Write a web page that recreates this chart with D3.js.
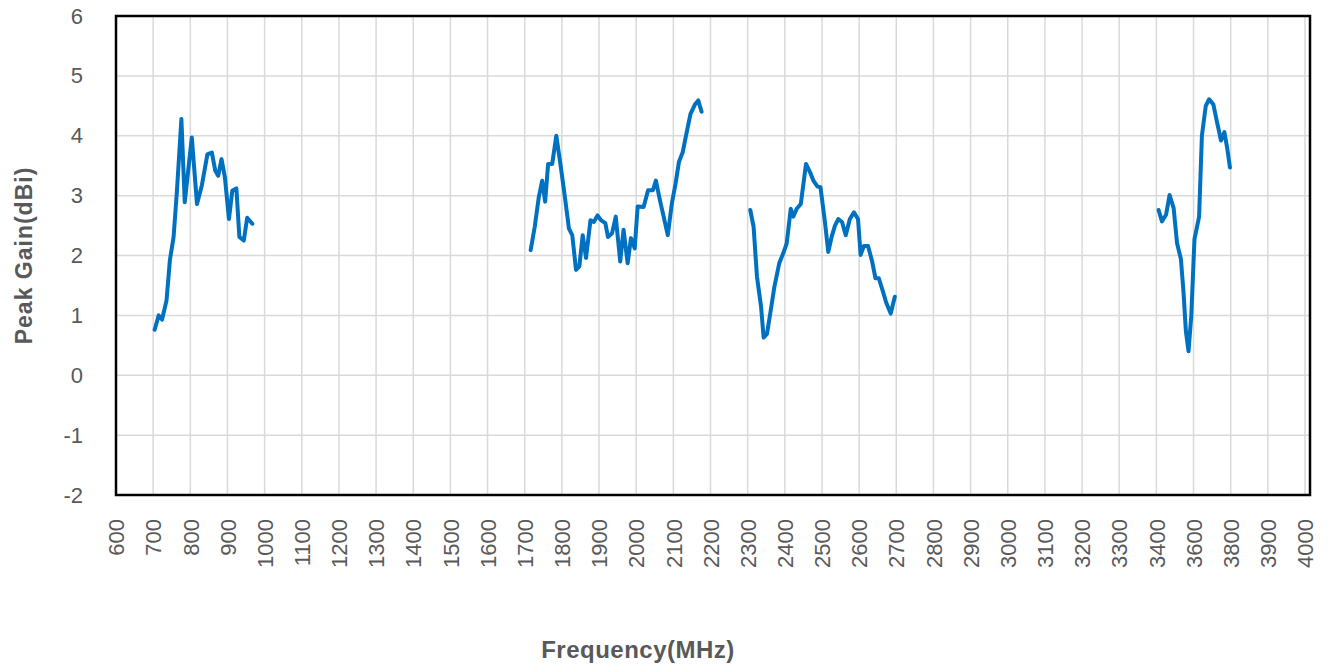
<!DOCTYPE html>
<html>
<head>
<meta charset="utf-8">
<script src="https://cdn.jsdelivr.net/npm/d3@7"></script>
<style>
  html, body { margin: 0; padding: 0; background: #ffffff; }
  svg { display: block; }
</style>
</head>
<body>
<svg id="chart" width="1335" height="665"></svg>
<script>
// ---- tick labels ----
const xTickLabels = [600,700,800,900,1000,1100,1200,1300,1400,1500,1600,1700,1800,1900,2000,
  2100,2200,2300,2400,2500,2600,2700,2800,2900,3000,3100,3200,3300,3400,3600,3800,3900,4000];
const yTickLabels = [-2,-1,0,1,2,3,4,5,6];

// ---- series values (frequency MHz, peak gain dBi) ----
const band1Freq = [704,715,724,736,745,755,764,776,785,804,818,831,846,858,867,875,884,893,904,913,924,932,944,953,967];
const band1Gain = [0.76,1.00,0.93,1.25,1.92,2.31,3.08,4.28,2.89,3.97,2.86,3.17,3.69,3.72,3.42,3.33,3.61,3.31,2.61,3.08,3.12,2.31,2.25,2.63,2.53];

const band2Freq = [1716,1727,1738,1747,1755,1763,1774,1785,1796,1808,1819,1828,1838,1847,1856,1865,1877,1886,1896,1905,1917,1924,1935,1945,1957,1966,1977,1986,1996,2004,2020,2032,2045,2053,2064,2075,2085,2096,2106,2115,2125,2136,2146,2158,2167,2176];
const band2Gain = [2.09,2.48,2.98,3.25,2.90,3.53,3.53,4.00,3.53,2.98,2.45,2.34,1.76,1.82,2.34,1.96,2.59,2.56,2.67,2.59,2.54,2.31,2.37,2.65,1.90,2.43,1.87,2.29,2.12,2.82,2.81,3.09,3.09,3.25,2.92,2.62,2.34,2.87,3.20,3.56,3.72,4.06,4.36,4.52,4.59,4.40];

const band3Freq = [2307,2316,2325,2336,2343,2352,2361,2372,2385,2396,2405,2416,2423,2432,2443,2457,2468,2477,2488,2496,2508,2517,2526,2535,2544,2554,2564,2575,2586,2597,2604,2613,2624,2635,2644,2653,2664,2673,2685,2696];
const band3Gain = [2.76,2.48,1.65,1.15,0.63,0.69,1.04,1.48,1.87,2.04,2.20,2.78,2.65,2.78,2.86,3.53,3.39,3.25,3.15,3.14,2.56,2.06,2.31,2.50,2.61,2.56,2.34,2.61,2.72,2.61,2.01,2.16,2.16,1.90,1.62,1.62,1.40,1.21,1.03,1.31];

const band4Freq = [3412,3430,3452,3471,3493,3511,3532,3546,3559,3573,3588,3605,3630,3645,3666,3684,3707,3725,3748,3766,3782,3796];
const band4Gain = [2.76,2.57,2.68,3.01,2.79,2.21,1.94,1.39,0.73,0.40,1.00,2.27,2.65,4.00,4.50,4.61,4.52,4.25,3.92,4.06,3.78,3.47];

const bands = [
  {freq: band1Freq, gain: band1Gain},
  {freq: band2Freq, gain: band2Gain},
  {freq: band3Freq, gain: band3Gain},
  {freq: band4Freq, gain: band4Gain}
];

// ---- layout ----
const plot = {left: 116, right: 1310, top: 16, bottom: 495};
const gridRight = 1305;
const textColor = "#595959";
const fontFamily = "'Liberation Sans', Arial, sans-serif";

const svg = d3.select("#chart");

// x: each labelled gridline is evenly spaced (category-like axis)
const step = (gridRight - plot.left) / (xTickLabels.length - 1);
const x = d3.scaleLinear()
  .domain(xTickLabels)
  .range(xTickLabels.map((d, i) => plot.left + i * step));

const y = d3.scaleLinear().domain([-2, 6]).range([plot.bottom, plot.top]);

// gridlines
const grid = svg.append("g");
grid.selectAll("line.v").data(xTickLabels).join("line")
  .attr("x1", d => x(d)).attr("x2", d => x(d))
  .attr("y1", plot.top).attr("y2", plot.bottom)
  .attr("stroke", "#d9d9d9").attr("stroke-width", 1.5);
grid.selectAll("line.h").data(yTickLabels).join("line")
  .attr("x1", plot.left).attr("x2", plot.right)
  .attr("y1", d => y(d)).attr("y2", d => y(d))
  .attr("stroke", "#d9d9d9").attr("stroke-width", 1.5);

// y axis labels
const yAxis = d3.axisLeft(y).tickValues(yTickLabels).tickSize(0).tickPadding(33).tickFormat(d => String(d));
const yg = svg.append("g").attr("transform", `translate(${plot.left},0)`).call(yAxis);
yg.select(".domain").remove();
yg.selectAll("text").attr("fill", textColor).style("font-family", fontFamily).style("font-size", "22px");

// x axis labels (rotated)
const xAxis = d3.axisBottom(x).tickValues(xTickLabels).tickSize(0).tickFormat(d => String(d));
const xg = svg.append("g").attr("transform", `translate(0,${plot.bottom})`).call(xAxis);
xg.select(".domain").remove();
xg.selectAll("text")
  .attr("fill", textColor)
  .style("font-family", fontFamily).style("font-size", "22px")
  .attr("transform", "rotate(-90)")
  .attr("text-anchor", "end")
  .attr("x", -24).attr("y", 0).attr("dy", "0.35em");

// series lines
const line = d3.line().x(d => x(d[0])).y(d => y(d[1]));
svg.append("g").selectAll("path").data(bands).join("path")
  .attr("d", b => line(b.freq.map((f, i) => [f, b.gain[i]])))
  .attr("fill", "none")
  .attr("stroke", "#0070C0")
  .attr("stroke-width", 4)
  .attr("stroke-linejoin", "round")
  .attr("stroke-linecap", "round");

// plot border
svg.append("rect")
  .attr("x", plot.left).attr("y", plot.top)
  .attr("width", plot.right - plot.left).attr("height", plot.bottom - plot.top)
  .attr("fill", "none").attr("stroke", "#000").attr("stroke-width", 2.5);

// axis titles
svg.append("text")
  .attr("transform", `translate(32,${(plot.top + plot.bottom) / 2}) rotate(-90)`)
  .attr("text-anchor", "middle")
  .attr("fill", textColor)
  .style("font-family", fontFamily).style("font-size", "23px").style("font-weight", "bold")
  .style("letter-spacing", "1px")
  .text("Peak Gain(dBi)");

svg.append("text")
  .attr("x", 638).attr("y", 658)
  .attr("text-anchor", "middle")
  .attr("fill", textColor)
  .style("font-family", fontFamily).style("font-size", "24px").style("font-weight", "bold")
  .style("letter-spacing", "0.5px")
  .text("Frequency(MHz)");
</script>
</body>
</html>
